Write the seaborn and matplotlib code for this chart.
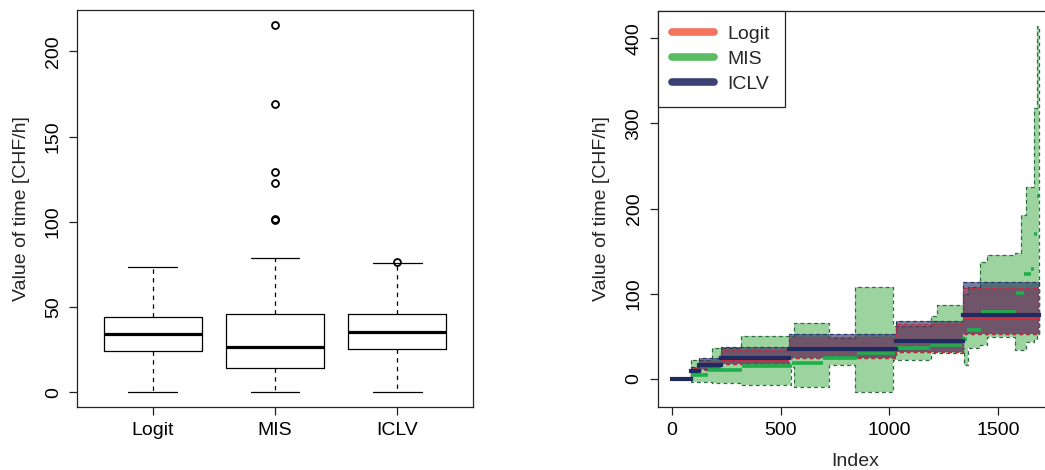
import numpy as np
import pandas as pd
import matplotlib
matplotlib.use("Agg")
import matplotlib.pyplot as plt
from matplotlib.lines import Line2D
import seaborn as sns

# ---------------- data: left panel (box-plot summaries) ----------------
models = ["Logit", "MIS", "ICLV"]
box_whislo = [0.0, 0.0, 0.0]
box_q1 = [24.4, 14.4, 25.4]
box_med = [34.4, 26.6, 35.6]
box_q3 = [44.0, 46.1, 45.8]
box_whishi = [73.6, 79.0, 75.9]
box_fliers = [[], [215.4, 169.2, 129.3, 123.0, 101.5, 100.8], [76.3]]

# ---------------- data: right panel (sorted VOT steps with bands) ----------------
# ICLV / Logit share the same breakpoints (index edges)
cls_edges = [1, 88, 127, 228, 540, 1030, 1340, 1688]
iclv_vot = [0.0, 9.8, 16.1, 25.0, 35.2, 44.6, 74.8]
iclv_lo = [0.0, 6.7, 11.4, 17.2, 24.3, 31.3, 52.5]
iclv_hi = [0.0, 14.4, 24.3, 37.9, 52.8, 68.1, 113.5]
logit_vot = [0.0, 9.2, 15.0, 21.9, 32.5, 41.9, 72.0]
logit_lo = [0.0, 6.5, 11.0, 17.5, 25.0, 32.1, 52.5]
logit_hi = [0.0, 13.0, 21.5, 34.0, 49.0, 64.2, 106.5]

mis_edges = [1, 88, 167, 321, 551, 697, 849, 1025, 1186, 1334, 1356, 1420,
             1580, 1620, 1650, 1662, 1676, 1688]
mis_vot = [0.0, 4.7, 10.6, 15.6, 18.4, 25.0, 30.2, 36.0, 40.0, 46.6, 57.5,
           79.0, 100.6, 123.0, 129.0, 169.9, 215.2]

mis_band_edges = [88, 184, 225, 317, 546, 560, 722, 843, 1015, 1190, 1217,
                  1340, 1343, 1360, 1415, 1446, 1576, 1606, 1626, 1663, 1678, 1688]
mis_band_lo = [-3.1, -5.1, -5.1, -7.0, 14.5, -9.8, 16.4, -14.9, 22.3, 30.2,
               30.2, 36.0, 16.0, 36.0, 40.0, 49.7, 34.0, 34.0, 44.0, 46.0, 50.0]
mis_band_hi = [22.3, 36.0, 37.0, 50.5, 50.0, 65.4, 48.0, 108.4, 62.0, 74.0,
               86.9, 100.0, 100.0, 108.0, 137.8, 145.6, 148.3, 192.6, 225.8,
               317.8, 415.0]

legend_colors = {"Logit": "#F4735C", "MIS": "#5BBD63", "ICLV": "#3C4173"}

# ---------------- style ----------------
sns.set_theme(style="ticks")
plt.rcParams["font.family"] = ["Liberation Sans", "DejaVu Sans"]
FS = 14

fig = plt.figure(figsize=(10.45, 4.70), dpi=100)
axL = fig.add_axes([77 / 1045, 1 - 407 / 470, 396 / 1045, 397 / 470])
axR = fig.add_axes([657.7 / 1045, 1 - 407.3 / 470, 395.3 / 1045, 396.6 / 470])

def frame(ax):
    for s in ax.spines.values():
        s.set_visible(True)
        s.set_color("#222222")
        s.set_linewidth(0.9)
    ax.tick_params(direction="out", length=5.8, width=0.9, color="#222222",
                   labelsize=FS, labelcolor="black")
    ax.tick_params(axis="x", pad=5)
    ax.tick_params(axis="y", pad=5)
    ax.grid(False)
    ax.set_facecolor("white")

# ---------------- left: boxplot ----------------
stats = []
for i, m in enumerate(models):
    stats.append(dict(label=m, whislo=box_whislo[i], q1=box_q1[i], med=box_med[i],
                      q3=box_q3[i], whishi=box_whishi[i], fliers=box_fliers[i]))
axL.bxp(stats, positions=[1, 2, 3], widths=0.8, capwidths=0.4, manage_ticks=False,
        boxprops=dict(color="black", linewidth=0.9),
        whiskerprops=dict(color="black", linewidth=0.9, linestyle=(0, (3.5, 3.5))),
        capprops=dict(color="black", linewidth=0.9),
        medianprops=dict(color="black", linewidth=2.3, solid_capstyle="butt"),
        flierprops=dict(marker="o", markerfacecolor="none", markeredgecolor="black",
                        markersize=5.0, markeredgewidth=1.3))
axL.set_xlim(0.38, 3.62)
axL.set_ylim(-8.6, 224.2)
axL.set_xticks([1, 2, 3])
axL.set_xticklabels(models)
axL.set_yticks([0, 50, 100, 150, 200])
frame(axL)
for t in axL.get_yticklabels():
    t.set_rotation(90)
    t.set_va("center")
axL.set_ylabel("Value of time [CHF/h]", fontsize=FS)
axL.yaxis.label.set_va("center")
axL.yaxis.set_label_coords(-0.140, 0.5)
axL.set_xlabel("")

# ---------------- right: step lines + bands ----------------
def seg_frame(edges, vals):
    rows = []
    for i, v in enumerate(vals):
        rows.append((edges[i], v, i))
        rows.append((edges[i + 1], v, i))
    return pd.DataFrame(rows, columns=["Index", "vot", "seg"])

def band(ax, edges, lo, hi, fc, alpha, ec):
    x = np.asarray(edges, dtype=float)
    l = np.r_[lo, lo[-1]]
    h = np.r_[hi, hi[-1]]
    ax.fill_between(x, l, h, step="post", facecolor=fc, alpha=alpha, linewidth=0)
    ax.fill_between(x, l, h, step="post", facecolor="none", edgecolor=ec,
                    linewidth=0.9, linestyle=(0, (3.0, 2.5)))

# MIS band + line (underneath)
band(axR, mis_band_edges, mis_band_lo, mis_band_hi, "#4CAF50", 0.55, "#2F6E45")
sns.lineplot(data=seg_frame(mis_edges, mis_vot), x="Index", y="vot", units="seg",
             estimator=None, sort=False, color="#1DB04B", linewidth=2.6,
             solid_capstyle="butt", legend=False, ax=axR)
# ICLV band then Logit band
band(axR, cls_edges, iclv_lo, iclv_hi, "#1F2A5E", 0.6, "#2A3570")
band(axR, cls_edges, logit_lo, logit_hi, "#B81D4B", 0.3, "#B8303F")
sns.lineplot(data=seg_frame(cls_edges, logit_vot), x="Index", y="vot", units="seg",
             estimator=None, sort=False, color="#D0303A", linewidth=1.6,
             solid_capstyle="butt", legend=False, ax=axR)
sns.lineplot(data=seg_frame(cls_edges, iclv_vot), x="Index", y="vot", units="seg",
             estimator=None, sort=False, color="#1F2A60", linewidth=3.0,
             solid_capstyle="projecting", legend=False, ax=axR)

axR.set_xlim(-64, 1751)
axR.set_ylim(-33.2, 432.4)
axR.set_xticks([0, 500, 1000, 1500])
axR.set_yticks([0, 100, 200, 300, 400])
frame(axR)
for t in axR.get_yticklabels():
    t.set_rotation(90)
    t.set_va("center")
axR.set_ylabel("Value of time [CHF/h]", fontsize=FS)
axR.yaxis.label.set_va("center")
axR.yaxis.set_label_coords(-0.1434, 0.5)
axR.set_xlabel("Index", fontsize=FS)
axR.xaxis.label.set_va("center")
axR.xaxis.set_label_coords(0.5, -0.137)

handles = [Line2D([], [], color=legend_colors[m], linewidth=5.5,
                  solid_capstyle="round") for m in models]
leg = axR.legend(handles, models, loc="upper left", bbox_to_anchor=(0, 1),
                 borderaxespad=0, frameon=True, fancybox=False, framealpha=1,
                 edgecolor="#222222", fontsize=FS, handlelength=2.15,
                 handletextpad=0.7, labelspacing=0.38, borderpad=0.75)
leg.get_frame().set_linewidth(0.9)

fig.savefig("out.png", dpi=100, facecolor="white")
